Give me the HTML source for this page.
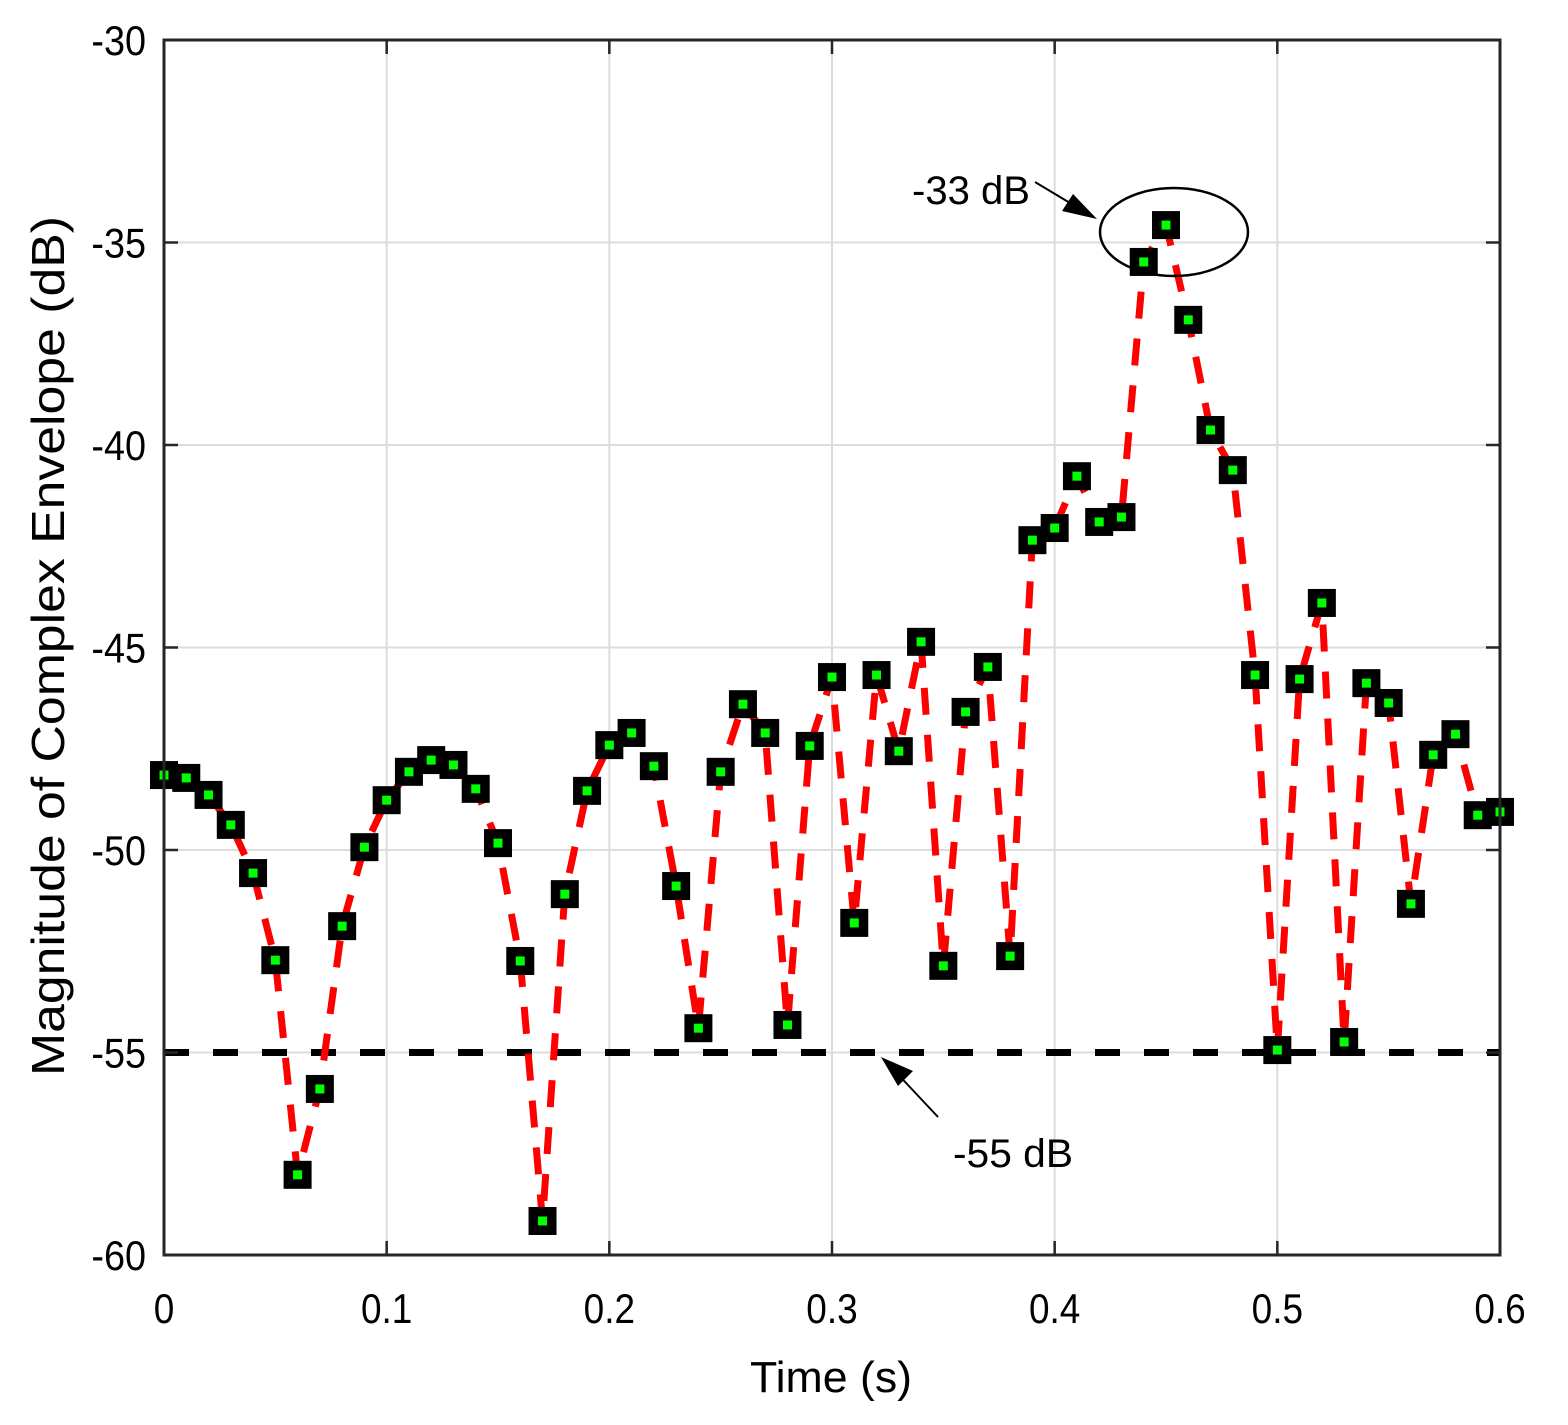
<!DOCTYPE html>
<html><head><meta charset="utf-8"><style>
body{margin:0;background:#fff}
svg text{font-family:"Liberation Sans",Arial,sans-serif;fill:#000}
</style></head><body>
<svg id="chart" width="1568" height="1420" xmlns="http://www.w3.org/2000/svg">
<rect width="1568" height="1420" fill="#fff"/>
<g id="grid"></g>
<g id="series"></g>
<g id="axes"></g>
<ellipse cx="1174" cy="232" rx="74" ry="44" fill="none" stroke="#000" stroke-width="2.5"/>
<text x="912" y="204" font-size="40" textLength="118" lengthAdjust="spacingAndGlyphs">-33 dB</text>
<line x1="1035" y1="182" x2="1085" y2="212" stroke="#000" stroke-width="2"/>
<polygon points="1097,219 1062,211 1073,194" fill="#000"/>
<text x="953" y="1167" font-size="40" textLength="120" lengthAdjust="spacingAndGlyphs">-55 dB</text>
<line x1="938" y1="1117" x2="892" y2="1068" stroke="#000" stroke-width="2"/>
<polygon points="881,1057 913,1071 898,1086" fill="#000"/>
<text x="750" y="1392" font-size="44" textLength="162" lengthAdjust="spacingAndGlyphs">Time (s)</text>
<text transform="translate(64,1076) rotate(-90)" font-size="46" textLength="860" lengthAdjust="spacingAndGlyphs">Magnitude of Complex Envelope (dB)</text>
</svg>
<script>
const times=[0,0.01,0.02,0.03,0.04,0.05,0.06,0.07,0.08,0.09,0.10,0.11,0.12,0.13,0.14,0.15,0.16,0.17,0.18,0.19,0.20,0.21,0.22,0.23,0.24,0.25,0.26,0.27,0.28,0.29,0.30,0.31,0.32,0.33,0.34,0.35,0.36,0.37,0.38,0.39,0.40,0.41,0.42,0.43,0.44,0.45,0.46,0.47,0.48,0.49,0.50,0.51,0.52,0.53,0.54,0.55,0.56,0.57,0.58,0.59,0.60];
const magnitudes=[-48.15,-48.22,-48.64,-49.38,-50.57,-52.72,-58.02,-55.9,-51.88,-49.93,-48.77,-48.07,-47.78,-47.9,-48.49,-49.83,-52.74,-59.16,-51.09,-48.54,-47.41,-47.11,-47.93,-50.89,-54.4,-48.07,-46.4,-47.11,-54.32,-47.43,-45.73,-51.8,-45.68,-47.56,-44.86,-52.86,-46.59,-45.48,-52.62,-42.35,-42.05,-40.77,-41.9,-41.78,-35.48,-34.57,-36.91,-39.63,-40.62,-45.68,-54.94,-45.78,-43.9,-54.74,-45.88,-46.37,-51.33,-47.65,-47.14,-49.14,-49.06];
const threshold=[-55];
const xTicks=[0,0.1,0.2,0.3,0.4,0.5,0.6];
const xTickLabels=["0","0.1","0.2","0.3","0.4","0.5","0.6"];
const yTicks=[-30,-35,-40,-45,-50,-55,-60];
const yTickLabels=["-30","-35","-40","-45","-50","-55","-60"];
const L=164,R=1500,T=40,B=1255;
const xs=v=>L+(v-0)/(0.6)*(R-L);
const ys=v=>T+(-30-v)/30*(B-T);
const NS="http://www.w3.org/2000/svg";
function mk(tag,attrs,parent){const e=document.createElementNS(NS,tag);for(const k in attrs)e.setAttribute(k,attrs[k]);parent.appendChild(e);return e;}
const grid=document.getElementById('grid'),axes=document.getElementById('axes'),series=document.getElementById('series');
xTicks.forEach((t,i)=>{
 const g=mk('line',{x1:xs(t),x2:xs(t),y1:T,y2:B,stroke:'#dcdcdc','stroke-width':2},grid);
 
 
 const tk=mk('path',{d:`M${xs(t)},${B}v-14M${xs(t)},${T}v14`,stroke:'#262626','stroke-width':2.5},axes);
 
 
 const tx=mk('text',{x:xs(t),y:B+68,'font-size':42,'text-anchor':'middle',transform:`translate(${xs(t)},0) scale(0.88,1) translate(${-xs(t)},0)`},axes);
 tx.textContent=xTickLabels[i];
 
 
});
yTicks.forEach((v,i)=>{
 const g=mk('line',{x1:L,x2:R,y1:ys(v),y2:ys(v),stroke:'#dcdcdc','stroke-width':2},grid);
 
 
 const tk=mk('path',{d:`M${L},${ys(v)}h14M${R},${ys(v)}h-14`,stroke:'#262626','stroke-width':2.5},axes);
 
 
 const tx=mk('text',{x:L-18,y:ys(v)+15,'font-size':42,'text-anchor':'end',transform:`translate(${L-18},0) scale(0.9,1) translate(${-(L-18)},0)`},axes);
 tx.textContent=yTickLabels[i];
 
 
});
const box=mk('rect',{x:L,y:T,width:R-L,height:B-T,fill:'none',stroke:'#262626','stroke-width':3},axes);


const th=mk('line',{x1:L,x2:R,y1:ys(threshold[0]),y2:ys(threshold[0]),stroke:'#000','stroke-width':7,'stroke-dasharray':'25 24'},series);


const d=times.map((t,i)=>(i?'L':'M')+xs(t)+','+ys(magnitudes[i])).join('');
const ln=mk('path',{d:d,fill:'none',stroke:'#ff0000','stroke-width':7,'stroke-dasharray':'27 20'},series);


times.forEach((t,i)=>{
 const cx=xs(t),cy=ys(magnitudes[i]);
 const m=mk('rect',{x:cx-14,y:cy-14,width:28,height:28,fill:'#000'},series);
 
 
 const c=mk('rect',{x:cx-4.5,y:cy-4.5,width:9,height:9,fill:'#00ff00'},series);
 
 
});
</script>
</body></html>
